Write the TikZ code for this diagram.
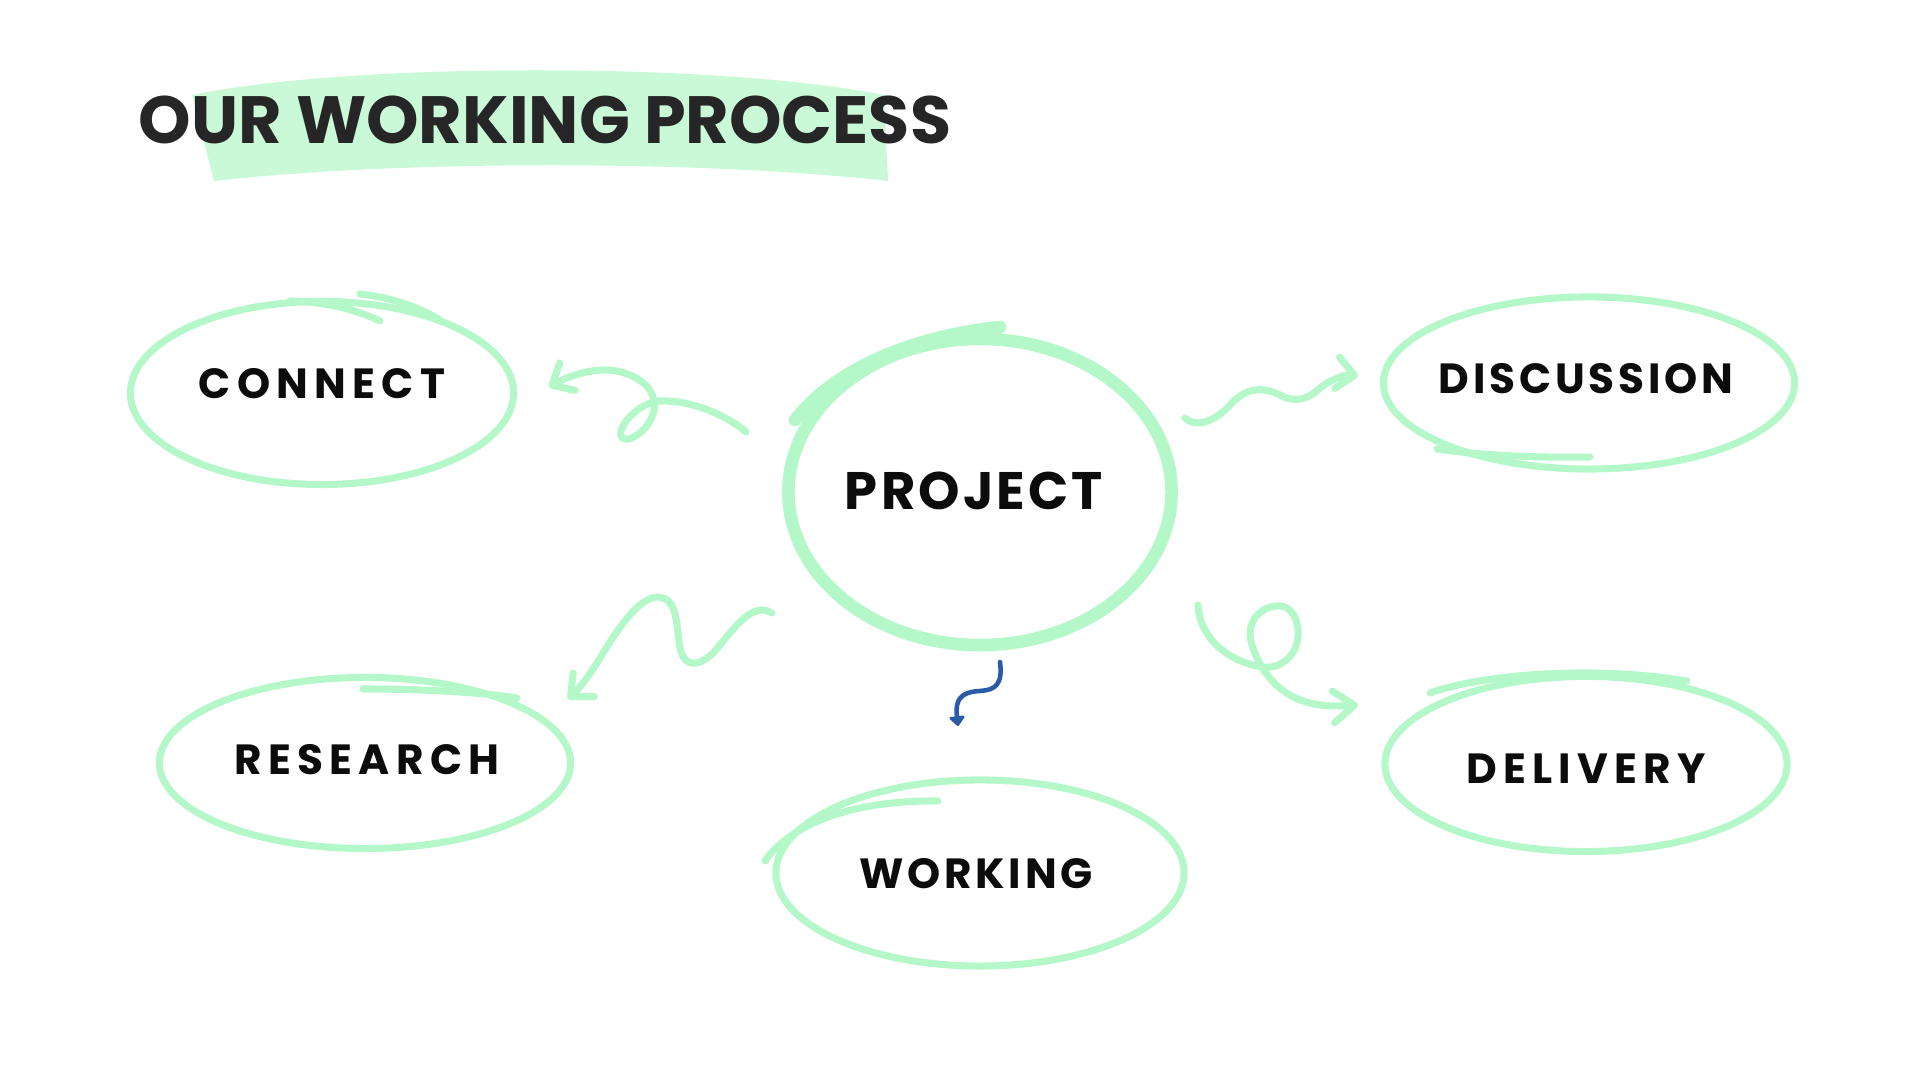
\documentclass[tikz,border=0pt]{standalone}
\usepackage{fontspec}
\setmainfont{Poppins}
\newfontfamily\lblfont{Poppins}[LetterSpace=15]
\newfontfamily\lblfontb{Poppins}[LetterSpace=9]
\newfontfamily\hubfont{Poppins}[LetterSpace=6]
\newfontfamily\ttlfont{Poppins}
\usetikzlibrary{shapes.geometric,arrows.meta}
\definecolor{mint}{RGB}{180,247,200}
\definecolor{band}{RGB}{202,249,216}
\definecolor{navy}{RGB}{43,90,168}
\definecolor{ink}{RGB}{12,12,12}
\definecolor{ttl}{RGB}{38,38,38}
\begin{document}
\begin{tikzpicture}[x=0.01cm,y=-0.01cm,
  bubble/.style={ellipse, draw=mint, line width=2pt, inner sep=0pt, outer sep=0pt},
  hub/.style={bubble, line width=3.6pt},
  lbl/.style={font={\lblfont\bfseries\fontsize{12pt}{14pt}\selectfont}, text=ink, inner sep=0pt},
  lblb/.style={font={\lblfontb\bfseries\fontsize{12pt}{14pt}\selectfont}, text=ink, inner sep=0pt},
  hublbl/.style={font={\hubfont\bfseries\fontsize{15pt}{18pt}\selectfont}, text=ink, inner sep=0pt},
  scribble/.style={draw=mint, line width=2pt, line cap=round},
  conn/.style={draw=mint, line width=2pt, line cap=round, line join=round, -{Straight Barb[length=5pt,width=9pt,round]}},
  bconn/.style={draw=navy, line width=1.3pt, line cap=round, line join=round, -{Triangle[length=3pt,width=5pt,round]}}
]
\useasboundingbox (0,0) rectangle (1920,1080);
\fill[white] (0,0) rectangle (1920,1080);

% title
\fill[band] (192,95) .. controls (350,62) and (720,62) .. (884,95) -- (888,181) .. controls (700,160) and (400,160) .. (214,181) -- cycle;
\node[font={\ttlfont\bfseries\fontsize{19pt}{23pt}\selectfont}, text=ttl, inner sep=0pt] (title) at (545,120) {OUR WORKING PROCESS};

% ellipses
\node[hub, minimum width=3.83cm, minimum height=3.06cm] (project) at (980,492) {};
\node[bubble, minimum width=3.83cm, minimum height=1.83cm] (connect) at (322,393) {};
\node[bubble, minimum width=4.11cm, minimum height=1.72cm] (discussion) at (1589,383) {};
\node[bubble, minimum width=4.11cm, minimum height=1.71cm] (research) at (365,763) {};
\node[bubble, minimum width=4.08cm, minimum height=1.86cm] (working) at (980,873) {};
\node[bubble, minimum width=4.02cm, minimum height=1.75cm] (delivery) at (1586,764) {};

% hand-drawn overlaps
\draw[scribble, line width=3.6pt] (795,420) .. controls (830,375) and (900,338) .. (1000,327);
\draw[scribble] (380,321) .. controls (355,309) and (325,302) .. (290,301);
\draw[scribble] (360,294) .. controls (395,298) and (420,308) .. (440,320);
\draw[scribble] (1437,449) .. controls (1480,455) and (1530,458) .. (1590,457);
\draw[scribble] (363,689) .. controls (420,689) and (480,692) .. (517,698);
\draw[scribble] (765,861) .. controls (790,825) and (850,800) .. (938,801);
\draw[scribble] (1430,693) .. controls (1480,675) and (1590,665) .. (1687,681);

% labels
\node[hublbl] (projectlbl) at (974,491) {PROJECT};
\node[lbl] (connectlbl) at (322,384) {CONNECT};
\node[lblb] (discussionlbl) at (1586,379) {DISCUSSION};
\node[lbl] (researchlbl) at (367,760) {RESEARCH};
\node[lblb] (workinglbl) at (976,874) {WORKING};
\node[lbl] (deliverylbl) at (1586,769) {DELIVERY};

% connector end points
\coordinate (c1s) at (746,432); \coordinate (c1e) at (549,387);
\coordinate (c2s) at (1185,418); \coordinate (c2e) at (1358,376);
\coordinate (c3s) at (772,613); \coordinate (c3e) at (568,699);
\coordinate (c4s) at (1000,662); \coordinate (c4e) at (958,726);
\coordinate (c5s) at (1198,605); \coordinate (c5e) at (1358,705);

% connectors
\draw[conn] (c1s) .. controls (725,414) and (690,400) .. (660,401) .. controls (640,402) and (618,425) .. (621,436) .. controls (624,446) and (650,432) .. (654,410) .. controls (658,385) and (630,370) .. (605,370) .. controls (585,370) and (565,378) .. (c1e);
\draw[conn] (c2s) .. controls (1195,428) and (1215,422) .. (1230,405) .. controls (1245,388) and (1262,386) .. (1280,395) .. controls (1295,403) and (1307,400) .. (1320,388) .. controls (1330,380) and (1345,374) .. (c2e);
\draw[conn] (c3s) .. controls (755,603) and (740,620) .. (720,645) .. controls (705,665) and (685,672) .. (680,648) .. controls (676,625) and (678,598) .. (658,597) .. controls (640,597) and (620,625) .. (600,658) .. controls (590,675) and (578,690) .. (c3e);
\draw[bconn] (c4s) .. controls (1003,685) and (995,690) .. (980,691) .. controls (960,692) and (955,700) .. (c4e);
\draw[conn, -{Straight Barb[length=6pt,width=9pt,round]}] (c5s) .. controls (1200,640) and (1230,662) .. (1262,667) .. controls (1285,670) and (1300,650) .. (1298,630) .. controls (1296,610) and (1285,605) .. (1277,606) .. controls (1258,607) and (1245,625) .. (1252,645) .. controls (1258,665) and (1275,695) .. (1310,703) .. controls (1325,707) and (1345,706) .. (c5e);
\end{tikzpicture}
\end{document}
